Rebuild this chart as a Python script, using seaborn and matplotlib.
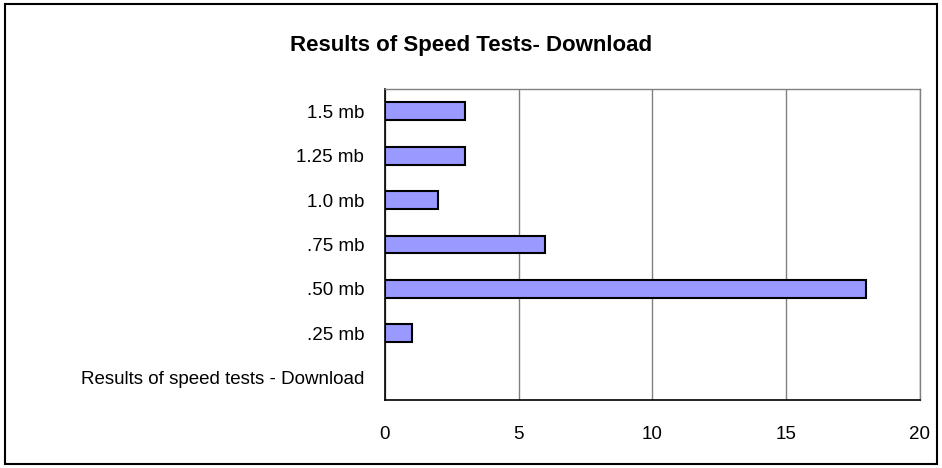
import matplotlib
matplotlib.use("Agg")
import matplotlib.pyplot as plt
import matplotlib.ticker as mticker
from matplotlib.patches import Rectangle
import numpy as np
import pandas as pd
import seaborn as sns

sns.set_style("white")
plt.rcParams['font.family'] = ['Liberation Sans', 'DejaVu Sans']
plt.rcParams['text.color'] = 'black'
plt.rcParams['xtick.labelcolor'] = 'black'
plt.rcParams['ytick.labelcolor'] = 'black'

title = "Results of Speed Tests- Download"
# top to bottom, as shown on the chart
categories = ["1.5 mb", "1.25 mb", "1.0 mb", ".75 mb", ".50 mb", ".25 mb",
              "Results of speed tests - Download"]
sizes = ["1.5 mb", "1.25 mb", "1.0 mb", ".75 mb", ".50 mb", ".25 mb"]
counts = [3, 3, 2, 6, 18, 1]
x_ticks = [0, 5, 10, 15, 20]

df = pd.DataFrame({"size": sizes, "count": counts})

fig = plt.figure(figsize=(9.42, 4.68), dpi=100)
ax = fig.add_axes([0.4087, 0.1453, 0.5679, 0.6645])

sns.barplot(data=df, x="count", y="size", order=categories, orient="h",
            color="#9999FF", saturation=1, width=0.4,
            edgecolor="black", linewidth=1.5, ax=ax, zorder=3)

ax.set_xlim(0, 20)
ax.set_ylim(len(categories) - 0.5, -0.5)
ax.xaxis.set_major_locator(mticker.FixedLocator(x_ticks))
ax.grid(axis="x", color="#808080", linewidth=1, zorder=0)
ax.set_xlabel("")
ax.set_ylabel("")

# spines like an Excel plot area
for side in ["left", "bottom"]:
    ax.spines[side].set_color("black")
    ax.spines[side].set_linewidth(1.2)
for side in ["top", "right"]:
    ax.spines[side].set_color("#808080")
    ax.spines[side].set_linewidth(1)

ax.tick_params(axis="x", direction="out", length=5, width=1, color="black",
               labelsize=13.5, labelcolor="black", pad=14)
ax.tick_params(axis="y", which="major", length=0, labelsize=13.5,
               labelcolor="black", pad=15)
ax.yaxis.set_minor_locator(mticker.FixedLocator(np.arange(-0.5, len(categories), 1)))
ax.tick_params(axis="y", which="minor", direction="out", length=5, width=1,
               color="#808080")

fig.text(0.5, 0.902, title, ha="center", va="center", fontsize=16,
         fontweight="bold", color="black")

# outer chart border
fig.patches.append(Rectangle((0.005, 0.008), 0.99, 0.984, transform=fig.transFigure,
                             fill=False, edgecolor="black", linewidth=1.5))

fig.savefig("out.png", dpi=100)
